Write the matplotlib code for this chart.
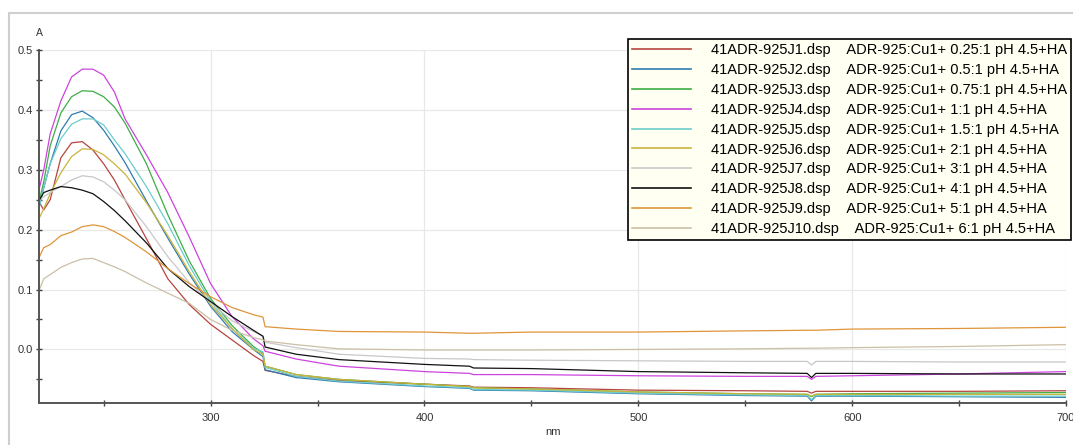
import matplotlib
matplotlib.use("Agg")
import matplotlib.pyplot as plt
from matplotlib.patches import Rectangle
import numpy as np

plt.rcParams['font.family'] = ['Liberation Sans', 'DejaVu Sans']

wl = [220, 222, 225, 230, 235, 240, 245, 250, 255, 260, 270, 280, 290, 300, 310, 320,
      324.5, 325.5, 340, 360, 400, 421, 423, 450, 500, 550, 579, 581, 583, 600, 650, 700]

j1 = [0.245, 0.233, 0.25, 0.32, 0.345, 0.347, 0.333, 0.31, 0.283, 0.25, 0.185, 0.118, 0.075, 0.042, 0.016, -0.01,
      -0.02, -0.035, -0.045, -0.052, -0.058, -0.061, -0.063, -0.064, -0.068, -0.069, -0.07, -0.073, -0.07, -0.07, -0.07, -0.069]
j2 = [0.24, 0.27, 0.31, 0.365, 0.392, 0.398, 0.387, 0.366, 0.34, 0.312, 0.248, 0.186, 0.126, 0.072, 0.03, 0.0,
      -0.012, -0.034, -0.047, -0.054, -0.062, -0.065, -0.068, -0.069, -0.074, -0.077, -0.078, -0.086, -0.078, -0.078, -0.079, -0.08]
j3 = [0.25, 0.28, 0.34, 0.395, 0.422, 0.432, 0.431, 0.422, 0.405, 0.378, 0.31, 0.225, 0.148, 0.085, 0.04, 0.005,
      -0.006, -0.028, -0.042, -0.05, -0.058, -0.062, -0.064, -0.066, -0.071, -0.074, -0.075, -0.079, -0.075, -0.074, -0.073, -0.072]
j4 = [0.27, 0.30, 0.36, 0.415, 0.455, 0.468, 0.468, 0.458, 0.43, 0.385, 0.325, 0.262, 0.188, 0.11, 0.055, 0.018,
      0.006, -0.003, -0.016, -0.028, -0.037, -0.04, -0.042, -0.042, -0.044, -0.045, -0.045, -0.05, -0.045, -0.044, -0.041, -0.037]
j5 = [0.24, 0.27, 0.31, 0.352, 0.376, 0.385, 0.385, 0.375, 0.35, 0.327, 0.272, 0.21, 0.14, 0.08, 0.035, 0.002,
      -0.004, -0.03, -0.045, -0.053, -0.061, -0.064, -0.067, -0.068, -0.073, -0.076, -0.077, -0.084, -0.077, -0.077, -0.078, -0.078]
j6 = [0.22, 0.235, 0.26, 0.295, 0.322, 0.335, 0.334, 0.325, 0.31, 0.293, 0.245, 0.19, 0.13, 0.075, 0.035, 0.0,
      -0.008, -0.028, -0.042, -0.05, -0.058, -0.062, -0.064, -0.066, -0.071, -0.074, -0.075, -0.078, -0.075, -0.075, -0.075, -0.075]
j7 = [0.25, 0.255, 0.262, 0.272, 0.283, 0.29, 0.288, 0.28, 0.266, 0.25, 0.205, 0.155, 0.112, 0.078, 0.048, 0.03,
      0.022, 0.012, 0.003, -0.008, -0.015, -0.016, -0.017, -0.018, -0.019, -0.02, -0.02, -0.026, -0.02, -0.02, -0.021, -0.021]
j8 = [0.25, 0.262, 0.266, 0.272, 0.27, 0.266, 0.26, 0.247, 0.232, 0.215, 0.178, 0.135, 0.105, 0.08, 0.055, 0.032,
      0.022, 0.004, -0.008, -0.017, -0.025, -0.028, -0.031, -0.032, -0.037, -0.039, -0.04, -0.047, -0.04, -0.04, -0.041, -0.041]
j9 = [0.155, 0.17, 0.175, 0.19, 0.196, 0.205, 0.208, 0.205, 0.197, 0.187, 0.163, 0.135, 0.11, 0.088, 0.07, 0.058,
      0.054, 0.038, 0.034, 0.03, 0.029, 0.027, 0.027, 0.029, 0.029, 0.031, 0.032, 0.032, 0.032, 0.034, 0.035, 0.037]
j10 = [0.1, 0.118, 0.125, 0.137, 0.145, 0.151, 0.152, 0.145, 0.138, 0.13, 0.111, 0.094, 0.077, 0.05, 0.032, 0.02,
       0.016, 0.014, 0.008, 0.001, -0.001, -0.001, -0.001, -0.001, 0.0, 0.001, 0.002, 0.002, 0.002, 0.003, 0.005, 0.008]

files = ["41ADR-925J1.dsp", "41ADR-925J2.dsp", "41ADR-925J3.dsp", "41ADR-925J4.dsp", "41ADR-925J5.dsp",
         "41ADR-925J6.dsp", "41ADR-925J7.dsp", "41ADR-925J8.dsp", "41ADR-925J9.dsp", "41ADR-925J10.dsp"]
ratios = ["0.25:1", "0.5:1", "0.75:1", "1:1", "1.5:1", "2:1", "3:1", "4:1", "5:1", "6:1"]
series = [j1, j2, j3, j4, j5, j6, j7, j8, j9, j10]
colors = ['#b5453e', '#2f7bb0', '#3cae45', '#cc44dd', '#6ccccc',
          '#c8b43c', '#c8c8c8', '#111111', '#e0953a', '#cbbfa6']

fig = plt.figure(figsize=(10.73, 4.45), dpi=100)
ax = fig.add_axes([0.0368, 0.095, 0.9567, 0.7926])

# outer panel border
fig.patches.append(Rectangle((9 / 1073, -0.05), 1.2, (445 - 13) / 445 + 0.05, transform=fig.transFigure,
                             fill=False, edgecolor='#cfcfcf', lw=1.5))

for name, ratio, ys, c in zip(files, ratios, series, colors):
    ax.plot(wl, ys, color=c, lw=0.9, label=f"{name}    ADR-925:Cu1+ {ratio} pH 4.5+HA")

ax.set_xlim(220, 700)
ax.set_ylim(-0.089, 0.5)
ax.set_xticks([300, 400, 500, 600, 700])
ax.set_xticks([250, 350, 450, 550, 650], minor=True)
ax.set_yticks([0.0, 0.1, 0.2, 0.3, 0.4, 0.5])
ax.set_yticks([-0.05, 0.05, 0.15, 0.25, 0.35, 0.45], minor=True)
ax.yaxis.set_major_formatter(matplotlib.ticker.FormatStrFormatter('%.1f'))
ax.grid(True, which='major', color='#e8e8e8', lw=0.9)
ax.set_axisbelow(True)

for s in ['top', 'right']:
    ax.spines[s].set_visible(False)
for s in ['left', 'bottom']:
    ax.spines[s].set_color('#555555')
    ax.spines[s].set_linewidth(1.4)
ax.tick_params(which='both', direction='inout', length=5, width=1, color='#444444',
               labelsize=8, labelcolor='#333333', pad=2)
ax.tick_params(axis='x', pad=5)

ax.set_xlabel('nm', fontsize=8, color='#333333', labelpad=3)
fig.text(39 / 1073, 1 - 33 / 445, 'A', fontsize=7.5, color='#333333', ha='center', va='center')

leg = ax.legend(loc='upper right', bbox_to_anchor=(1071 / 1073, 1 - 39 / 445), bbox_transform=fig.transFigure,
                fontsize=10.5, frameon=True, fancybox=False, framealpha=1, facecolor='#fffff2', edgecolor='black',
                borderpad=0.3, borderaxespad=0, handlelength=4.0, handletextpad=1.35, labelspacing=0.4)
leg.get_frame().set_linewidth(1.2)
for line in leg.get_lines():
    line.set_linewidth(1.2)

fig.savefig('out.png', dpi=100)
